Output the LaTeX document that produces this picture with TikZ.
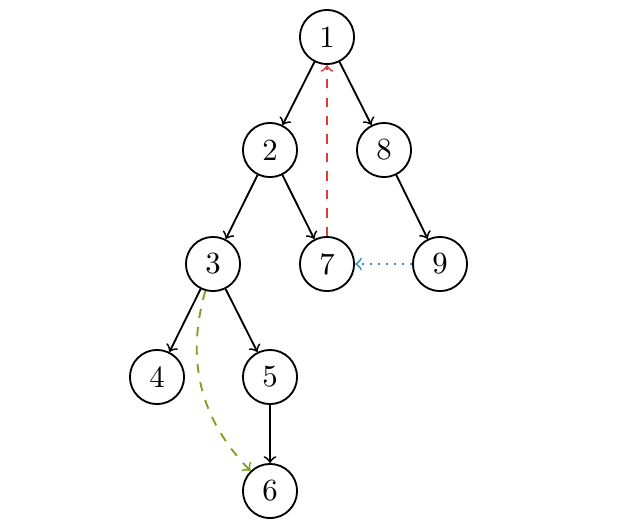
\documentclass[tikz,border=0pt]{standalone}
\definecolor{redarc}{RGB}{222,58,58}
\definecolor{bluearc}{RGB}{55,145,205}
\definecolor{greenarc}{RGB}{125,160,25}
\begin{document}
\begin{tikzpicture}[x=0.325pt,y=-0.325pt,
  vtx/.style={circle,draw,semithick,minimum size=17.6pt,inner sep=0pt,font=\normalsize},
  edge/.style={->,semithick},
  back/.style={->,semithick,dashed,redarc},
  cross/.style={->,semithick,dotted,bluearc},
  fwd/.style={->,semithick,dashed,greenarc}]
\useasboundingbox (0,0) rectangle (622,520);
\node[vtx] (n1) at (327,37) {1};
\node[vtx] (n2) at (270,150) {2};
\node[vtx] (n8) at (384,150) {8};
\node[vtx] (n3) at (213,264) {3};
\node[vtx] (n7) at (327,264) {7};
\node[vtx] (n9) at (440,264) {9};
\node[vtx] (n4) at (157,377) {4};
\node[vtx] (n5) at (270,377) {5};
\node[vtx] (n6) at (270,491) {6};
\draw[edge] (n1) -- (n2);
\draw[edge] (n1) -- (n8);
\draw[edge] (n2) -- (n3);
\draw[edge] (n2) -- (n7);
\draw[edge] (n8) -- (n9);
\draw[edge] (n3) -- (n4);
\draw[edge] (n3) -- (n5);
\draw[edge] (n5) -- (n6);
\draw[back] (n7) -- (n1);
\draw[cross] (n9) -- (n7);
\draw[fwd] (n3) to[bend right=30] (n6);
\end{tikzpicture}
\end{document}
